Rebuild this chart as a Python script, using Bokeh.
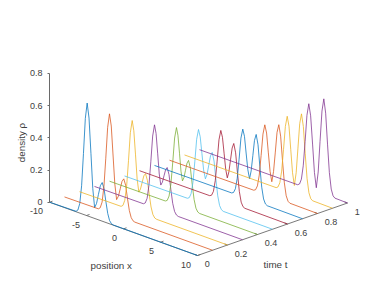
import math
import numpy as np
from bokeh.plotting import figure
from bokeh.models import Range1d, Label, FixedTicker
from bokeh.embed import file_html
from bokeh.resources import INLINE

times = [0, 0.1, 0.2, 0.3, 0.4, 0.5, 0.6, 0.7, 0.8, 0.9, 1.0]
colors = ["#0072BD", "#D95319", "#EDB120", "#7E2F8E", "#77AC30", "#4DBEEE", "#A2142F",
          "#0072BD", "#D95319", "#EDB120", "#7E2F8E"]

x_t00 = [-10, -6.41, -6.16, -5.91, -5.66, -5.41, -5.16, -4.91, -4.66, -4.40, -4.15, -3.90, -3.64, -3.39, -3.13, -2.88, -2.63, -2.38, -2.13, -1.88, -1.63, -1.38, 10]
z_t00 = [0, .003, .015, .06, .174, .378, .60, .70, .611, .396, .181, .067, .098, .157, .216, .24, .206, .13, .06, .02, .005, .001, 0]
x_t01 = [-10, -5.42, -5.17, -4.92, -4.67, -4.42, -4.17, -3.92, -3.68, -3.44, -3.20, -2.96, -2.71, -2.47, -2.23, -1.99, -1.74, -1.49, -1.24, -.99, -.74, -.49, 10]
z_t01 = [0, .002, .013, .052, .154, .333, .529, .617, .545, .369, .193, .10, .126, .175, .225, .245, .21, .132, .061, .021, .005, .001, 0]
x_t02 = [-10, -4.38, -4.13, -3.88, -3.63, -3.38, -3.13, -2.88, -2.66, -2.43, -2.21, -1.98, -1.76, -1.53, -1.31, -1.08, -.83, -.58, -.33, -.08, .17, .42, 10]
z_t02 = [0, .002, .012, .048, .139, .302, .48, .56, .50, .354, .207, .13, .153, .198, .242, .26, .223, .14, .065, .022, .005, .001, 0]
x_t03 = [-10, -3.39, -3.14, -2.89, -2.64, -2.39, -2.14, -1.89, -1.68, -1.46, -1.25, -1.04, -.82, -.61, -.39, -.18, .07, .32, .57, .82, 1.07, 1.32, 10]
z_t03 = [0, .002, .011, .044, .129, .279, .443, .517, .467, .344, .222, .157, .179, .221, .263, .28, .24, .151, .07, .024, .006, .001, 0]
x_t04 = [-10, -2.45, -2.2, -1.95, -1.7, -1.45, -1.2, -.95, -.75, -.54, -.34, -.14, .07, .27, .48, .68, .93, 1.18, 1.43, 1.68, 1.93, 2.18, 10]
z_t04 = [0, .002, .01, .041, .12, .261, .414, .483, .438, .33, .222, .165, .19, .238, .286, .306, .262, .165, .076, .026, .006, .001, 0]
x_t05 = [-10, -1.5, -1.25, -1.0, -.75, -.5, -.25, 0, .23, .46, .69, .93, 1.16, 1.39, 1.62, 1.85, 2.1, 2.35, 2.6, 2.85, 3.1, 3.35, 10]
z_t05 = [0, .002, .01, .039, .113, .245, .389, .454, .413, .314, .215, .163, .195, .256, .317, .342, .293, .185, .085, .029, .007, .001, 0]
x_t06 = [-10, -.51, -.26, -.01, .24, .49, .74, .99, 1.21, 1.43, 1.65, 1.865, 2.08, 2.30, 2.52, 2.74, 2.99, 3.24, 3.49, 3.74, 3.99, 4.24, 10]
z_t06 = [0, .002, .009, .037, .108, .233, .37, .432, .393, .298, .202, .152, .193, .271, .348, .38, .326, .205, .095, .032, .008, .002, 0]
x_t07 = [-10, .43, .68, .93, 1.18, 1.43, 1.68, 1.93, 2.16, 2.38, 2.61, 2.84, 3.06, 3.29, 3.51, 3.74, 3.99, 4.24, 4.49, 4.74, 4.99, 5.24, 10]
z_t07 = [0, .002, .009, .036, .105, .228, .363, .423, .382, .282, .183, .13, .182, .281, .379, .42, .36, .227, .105, .036, .009, .002, 0]
x_t08 = [-10, 1.38, 1.63, 1.88, 2.13, 2.38, 2.63, 2.88, 3.12, 3.35, 3.59, 3.825, 4.06, 4.30, 4.53, 4.77, 5.02, 5.27, 5.52, 5.77, 6.02, 6.27, 10]
z_t08 = [0, .002, .009, .037, .108, .234, .371, .433, .386, .271, .156, .095, .162, .287, .413, .465, .398, .251, .116, .04, .01, .002, 0]
x_t09 = [-10, 2.38, 2.63, 2.88, 3.13, 3.38, 3.63, 3.88, 4.12, 4.36, 4.60, 4.845, 5.09, 5.33, 5.57, 5.81, 6.06, 6.31, 6.56, 6.81, 7.06, 7.31, 10]
z_t09 = [0, .002, .01, .04, .117, .254, .403, .47, .412, .271, .131, .056, .139, .296, .452, .517, .443, .279, .129, .044, .011, .002, 0]
x_t10 = [-10, 3.27, 3.52, 3.77, 4.02, 4.27, 4.52, 4.77, 5.02, 5.28, 5.53, 5.785, 6.04, 6.29, 6.55, 6.8, 7.05, 7.3, 7.55, 7.8, 8.05, 8.3, 10]
z_t10 = [0, .002, .011, .045, .132, .286, .454, .53, .459, .288, .116, .025, .127, .321, .514, .594, .509, .321, .148, .05, .012, .002, 0]

xs_all = [x_t00, x_t01, x_t02, x_t03, x_t04, x_t05, x_t06, x_t07, x_t08, x_t09, x_t10]
zs_all = [z_t00, z_t01, z_t02, z_t03, z_t04, z_t05, z_t06, z_t07, z_t08, z_t09, z_t10]

x_ticks = [-10, -5, 0, 5, 10]
t_ticks = [0, 0.2, 0.4, 0.6, 0.8, 1]
z_ticks = [0, 0.2, 0.4, 0.6, 0.8]

TXT = "#404040"
AX = "#6a6a6a"
FONT = "Liberation Sans"


# Orthographic projection of (x, t, z) to the 2D plane of the figure.
def proj(x, t, z=0.0):
    x = np.asarray(x, dtype=float)
    z = np.asarray(z, dtype=float)
    sx = 49 + (x + 10) * 7.4 + t * 150
    sy = z - ((x + 10) * 2.665 - t * 52.5) / 161
    return sx, sy


W, H = 370, 274
p = figure(width=W, height=H, output_backend="svg", toolbar_location=None,
           x_range=Range1d(0, W), y_range=Range1d((201.7 - H) / 161, 201.7 / 161),
           x_axis_location=None, min_border_left=0, min_border_right=0,
           min_border_top=0, min_border_bottom=0)
p.grid.visible = False
p.outline_line_color = None
p.background_fill_color = "white"

ya = p.yaxis[0]
ya.fixed_location = 49
ya.bounds = (0, 0.8)
ya.ticker = FixedTicker(ticks=z_ticks)
ya.major_label_overrides = {0: "0", 0.2: "0.2", 0.4: "0.4", 0.6: "0.6", 0.8: "0.8"}
ya.major_tick_in = 0
ya.major_tick_out = 2
ya.minor_tick_line_color = None
ya.axis_line_color = AX
ya.major_tick_line_color = AX
ya.axis_line_width = 1
ya.major_label_text_font = FONT
ya.major_label_text_font_size = "9px"
ya.major_label_text_color = TXT
ya.major_label_standoff = 5

# ground axes
sx, sy = proj([-10, 10], 0)
p.line(sx, sy, line_color=AX, line_width=0.9)
sx, sy = proj([10, 10], 0)
sx2, sy2 = proj([10, 10], 1)
p.line([sx[0], sx2[0]], [sy[0], sy2[0]], line_color=AX, line_width=0.9)

for v in x_ticks:
    a, b = proj([v], 0)
    c, d = proj([v], 0.02)
    p.line([a[0], c[0]], [b[0], d[0]], line_color=AX, line_width=0.9)
    p.add_layout(Label(x=a[0], y=b[0], text=str(v), x_offset=-6.5, y_offset=-9,
                       text_align="right", text_baseline="middle", text_font=FONT,
                       text_font_size="9px", text_color=TXT))
for v in t_ticks:
    a, b = proj([10], v)
    c, d = proj([9.6], v)
    p.line([a[0], c[0]], [b[0], d[0]], line_color=AX, line_width=0.9)
    p.add_layout(Label(x=a[0], y=b[0], text=f"{v:g}", x_offset=7.2, y_offset=-8.7,
                       text_align="left", text_baseline="middle", text_font=FONT,
                       text_font_size="9px", text_color=TXT))

# curves
for t, xs, zs, col in zip(times, xs_all, zs_all, colors):
    sx, sy = proj(xs, t, zs)
    p.line(sx, sy, line_color=col, line_width=0.9, line_alpha=0.85, line_join="round")


def ypx(py):
    return (201.7 - py) / 161


for txt, px, py, ang in [("position x", 110.7, 264.5, 0), ("time t", 275, 264.3, 0),
                         ("density ρ", 21, 142, math.pi / 2)]:
    p.add_layout(Label(x=px, y=ypx(py), text=txt, angle=ang, text_align="center",
                       text_baseline="middle", text_font=FONT, text_font_size="9.8px",
                       text_color=TXT))

open("out.html", "w").write(file_html(p, INLINE))
